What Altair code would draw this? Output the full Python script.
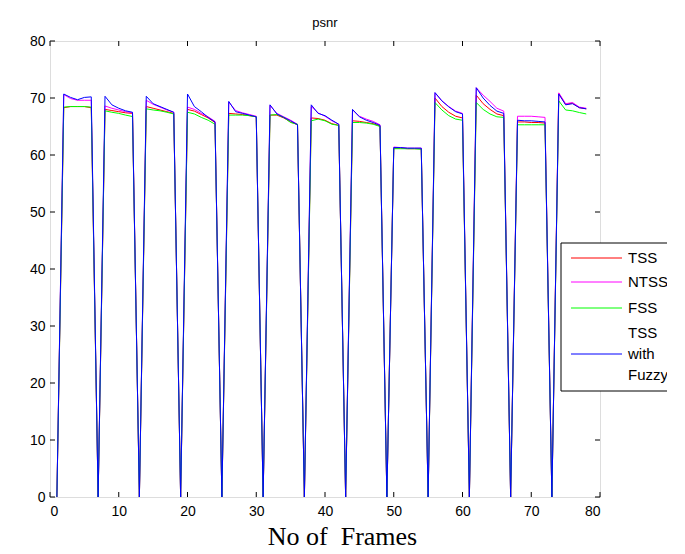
import altair as alt
import pandas as pd

# ---------------- data ----------------
frames = list(range(1, 79))

tss = [0,
       68.3, 68.5, 68.5, 68.5, 68.3, 0,
       68.0, 67.8, 67.6, 67.4, 67.3, 0,
       68.5, 68.2, 67.9, 67.6, 67.3, 0,
       68.0, 67.7, 67.1, 66.5, 65.7, 0,
       67.3, 67.2, 67.1, 66.9, 66.7, 0,
       67.0, 67.0, 66.5, 65.8, 65.3, 0,
       66.5, 66.4, 66.1, 65.5, 65.2, 0,
       66.0, 65.9, 65.7, 65.5, 65.1, 0,
       61.2, 61.2, 61.1, 61.1, 61.1, 0,
       70.0, 68.5, 67.5, 66.8, 66.5, 0,
       70.5, 69.0, 68.0, 67.2, 66.9, 0,
       65.8, 65.8, 65.7, 65.7, 65.6, 0,
       70.8, 68.9, 69.1, 68.3, 68.1]

ntss = [0,
        70.6, 69.9, 69.6, 69.6, 69.6, 0,
        68.6, 68.2, 67.9, 67.6, 67.4, 0,
        69.6, 68.9, 68.4, 67.9, 67.5, 0,
        68.4, 68.0, 67.3, 66.7, 65.9, 0,
        69.3, 67.8, 67.4, 67.1, 66.8, 0,
        68.7, 67.3, 66.7, 66.1, 65.4, 0,
        68.5, 67.4, 66.8, 66.0, 65.4, 0,
        67.9, 66.8, 66.3, 65.9, 65.3, 0,
        61.4, 61.3, 61.2, 61.2, 61.2, 0,
        70.9, 69.5, 68.5, 67.7, 67.3, 0,
        71.8, 70.5, 69.4, 68.2, 67.7, 0,
        66.8, 66.8, 66.8, 66.7, 66.6, 0,
        70.9, 69.0, 69.2, 68.4, 68.2]

fss = [0,
       68.4, 68.5, 68.5, 68.5, 68.4, 0,
       67.75, 67.5, 67.3, 67.0, 66.75, 0,
       68.1, 67.9, 67.75, 67.5, 67.2, 0,
       67.5, 67.2, 66.6, 66.1, 65.4, 0,
       67.0, 67.0, 67.0, 66.9, 66.7, 0,
       67.0, 67.1, 66.6, 65.7, 65.4, 0,
       66.0, 66.3, 66.0, 65.4, 65.2, 0,
       65.7, 65.7, 65.6, 65.4, 65.0, 0,
       61.1, 61.1, 61.1, 61.1, 61.0, 0,
       69.2, 67.9, 66.9, 66.3, 66.1, 0,
       69.2, 68.0, 67.2, 66.7, 66.6, 0,
       65.3, 65.3, 65.3, 65.3, 65.3, 0,
       69.5, 67.9, 67.75, 67.45, 67.2]

tss_fuzzy = [0,
             70.7, 70.1, 69.7, 70.1, 70.2, 0,
             70.3, 68.8, 68.2, 67.75, 67.5, 0,
             70.3, 69.0, 68.5, 68.0, 67.5, 0,
             70.7, 68.5, 67.6, 66.6, 65.8, 0,
             69.4, 67.6, 67.3, 67.0, 66.7, 0,
             68.8, 67.2, 66.6, 66.0, 65.3, 0,
             68.8, 67.3, 66.9, 66.1, 65.4, 0,
             68.0, 66.7, 66.1, 65.7, 65.2, 0,
             61.3, 61.3, 61.2, 61.2, 61.2, 0,
             70.95, 69.5, 68.45, 67.6, 67.2, 0,
             71.8, 70.0, 68.7, 67.7, 67.3, 0,
             66.1, 66.0, 66.0, 65.9, 65.8, 0,
             70.7, 68.8, 69.0, 68.3, 68.1]

series_names = ["TSS", "NTSS", "FSS", "TSS with Fuzzy"]
series_values = [tss, ntss, fss, tss_fuzzy]
series_colors = ["#ff0000", "#ff00ff", "#00ff00", "#0000ff"]
tick_values = [0, 10, 20, 30, 40, 50, 60, 70, 80]

# ---------------- layout ----------------
W, H = 550, 456
FONT = "Liberation Sans"

xscale = alt.Scale(domain=[0, 80], nice=False, zero=False)
yscale = alt.Scale(domain=[0, 80], nice=False, zero=False)

x_axis = alt.Axis(values=tick_values, ticks=False, domain=False, grid=False,
                  labelFont=FONT, labelFontSize=14, labelColor="black", labelPadding=7,
                  title="No of\u00a0 Frames", titleFont="Liberation Serif",
                  titleFontSize=26, titleFontWeight="normal", titleColor="black",
                  titlePadding=5, titleX=292, titleAlign="center")
y_axis = alt.Axis(values=tick_values, ticks=False, domain=False, grid=False,
                  labelFont=FONT, labelFontSize=14, labelColor="black", labelPadding=5,
                  title=None)

layers = []
for name, vals, col in zip(series_names, series_values, series_colors):
    d = pd.DataFrame({"frame": frames, "psnr": vals, "series": name})
    layers.append(
        alt.Chart(d).mark_line(strokeWidth=1, color=col).encode(
            x=alt.X("frame:Q", scale=xscale, axis=x_axis),
            y=alt.Y("psnr:Q", scale=yscale, axis=y_axis))
    )

tdf = pd.DataFrame({"t": tick_values})
tick_len = 5
ticks = [
    alt.Chart(tdf).mark_rule(color="black", strokeWidth=1).encode(
        x=alt.X("t:Q", scale=xscale, axis=x_axis), y=alt.value(H), y2=alt.value(H - tick_len)),
    alt.Chart(tdf).mark_rule(color="black", strokeWidth=1).encode(
        x=alt.X("t:Q", scale=xscale, axis=x_axis), y=alt.value(0), y2=alt.value(tick_len)),
    alt.Chart(tdf).mark_rule(color="black", strokeWidth=1).encode(
        y=alt.Y("t:Q", scale=yscale, axis=y_axis), x=alt.value(0), x2=alt.value(tick_len)),
    alt.Chart(tdf).mark_rule(color="black", strokeWidth=1).encode(
        y=alt.Y("t:Q", scale=yscale, axis=y_axis), x=alt.value(W), x2=alt.value(W - tick_len)),
]

one = pd.DataFrame({"a": [0]})
title = alt.Chart(one).mark_text(font=FONT, fontSize=13, color="black",
                                 align="center", baseline="alphabetic").encode(
    x=alt.value(W / 2), y=alt.value(-14), text=alt.value("psnr"))

# legend (drawn as marks, MATLAB style box; cut off at the figure's right edge)
lx0, ly0, ly1 = 511, 202, 350
legend_parts = [
    alt.Chart(one).mark_rect(fill="white", stroke="black", strokeWidth=1).encode(
        x=alt.value(lx0), x2=alt.value(700), y=alt.value(ly0), y2=alt.value(ly1))
]
row_y = [217, 241, 267, 313]
text_rows = [("TSS", 217), ("NTSS", 241), ("FSS", 267), ("TSS", 292), ("with", 313), ("Fuzzy", 334)]
for col, ry in zip(series_colors, row_y):
    legend_parts.append(
        alt.Chart(one).mark_rule(color=col, strokeWidth=1).encode(
            x=alt.value(lx0 + 10), x2=alt.value(lx0 + 61), y=alt.value(ry)))
for txt, ry in text_rows:
    legend_parts.append(
        alt.Chart(one).mark_text(font=FONT, fontSize=15, color="black",
                                 align="left", baseline="middle").encode(
            x=alt.value(lx0 + 67), y=alt.value(ry), text=alt.value(txt)))

chart = alt.layer(*layers, *ticks, title, *legend_parts).properties(
    width=W, height=H,
    autosize=alt.AutoSizeParams(type="none"),
    padding={"left": 50, "top": 41, "right": 67, "bottom": 57},
).configure_view(stroke="black", strokeWidth=1).configure(background="white")

chart.save("out.html", embed_options={"renderer": "svg", "actions": False})
